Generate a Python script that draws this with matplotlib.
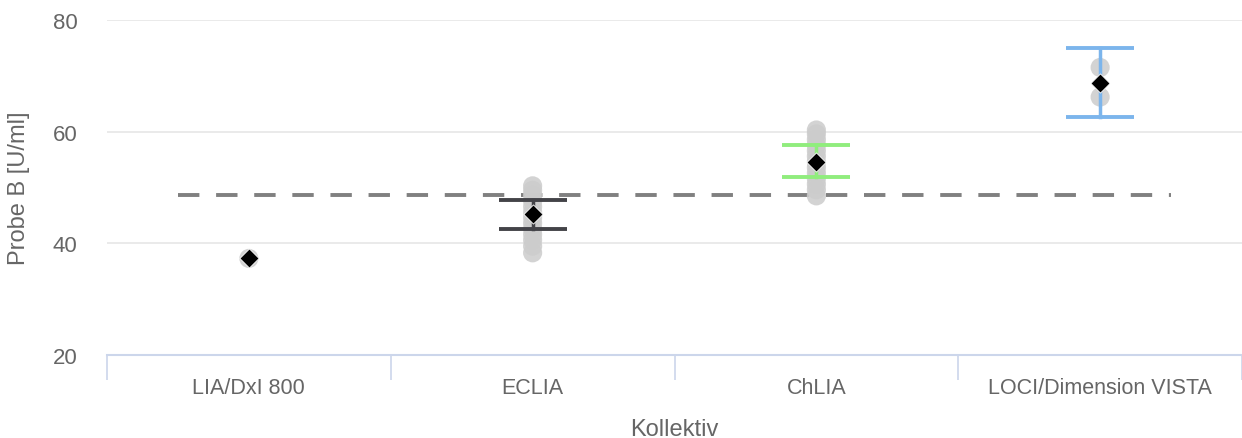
import matplotlib
matplotlib.use("Agg")
import matplotlib.pyplot as plt
import numpy as np

plt.rcParams['font.family'] = ['Liberation Sans', 'DejaVu Sans']

kollektiv = ["LIA/DxI 800", "ECLIA", "ChLIA", "LOCI/Dimension VISTA"]
einzelwerte = [
    [37.3],
    [38.3, 39.5, 40.6, 41.6, 42.6, 43.6, 44.6, 45.6, 46.6, 47.6, 48.6, 49.5, 50.3],
    [48.5, 49.6, 50.6, 51.6, 52.6, 53.6, 54.6, 55.6, 56.6, 57.6, 58.6, 59.6, 60.3],
    [66.2, 71.5],
]
mittelwert = [37.3, 45.2, 54.5, 68.8]
fehler_oben = [None, 47.7, 57.7, 75.0]
fehler_unten = [None, 42.6, 51.8, 62.7]
farben = [None, "#434348", "#90ed7d", "#7cb5ec"]
sollwert = 48.6

fig = plt.figure(figsize=(12.42, 4.39), dpi=100)
ax = fig.add_axes([107/1242, 1 - 356/439, 1 - 107/1242, (356 - 21)/439])

x = np.arange(len(kollektiv))

for i, werte in enumerate(einzelwerte):
    ax.scatter([x[i]] * len(werte), werte, s=190, color="#cccccc", alpha=0.85,
               edgecolors="none", zorder=2)

for i in range(len(kollektiv)):
    if fehler_oben[i] is None:
        continue
    ax.plot([x[i], x[i]], [fehler_unten[i], fehler_oben[i]], color=farben[i], lw=2.5, zorder=3)
    for yv in (fehler_unten[i], fehler_oben[i]):
        ax.plot([x[i] - 0.12, x[i] + 0.12], [yv, yv], color=farben[i], lw=2.8,
                solid_capstyle="butt", zorder=3)

ax.scatter(x, mittelwert, marker="D", s=95, color="black", edgecolors="white",
           linewidths=0.6, zorder=4)

ax.plot([-0.25, 3.25], [sollwert, sollwert], color="#808080", lw=2.8,
        dashes=(5.5, 4.3), zorder=1)

ax.set_xlim(-0.5, 3.5)
ax.set_ylim(20, 80)
ax.set_yticks([20, 40, 60, 80])
ax.set_xticks(x)
ax.set_xticklabels(kollektiv)
ax.set_xticks([-0.5, 0.5, 1.5, 2.5, 3.5], minor=True)
ax.tick_params(axis='x', which='major', length=0, pad=16, labelsize=15.5, labelcolor="#666666")
ax.tick_params(axis='x', which='minor', length=18, width=1.2, color="#ccd6eb")
ax.tick_params(axis='y', length=0, pad=39, labelsize=16, labelcolor="#666666")
for lbl in ax.get_yticklabels():
    lbl.set_horizontalalignment("left")

ax.grid(axis='y', color="#e6e6e6", lw=1.2)
ax.set_axisbelow(True)
for s in ["top", "right", "left"]:
    ax.spines[s].set_visible(False)
ax.spines["bottom"].set_color("#ccd6eb")
ax.spines["bottom"].set_linewidth(1.5)

ax.set_ylabel("Probe B [U/ml]", fontsize=17, color="#666666")
ax.yaxis.set_label_coords(-0.068, 0.5)
ax.set_xlabel("Kollektiv", fontsize=17, color="#666666", labelpad=14)

fig.savefig("out.png", dpi=100)
